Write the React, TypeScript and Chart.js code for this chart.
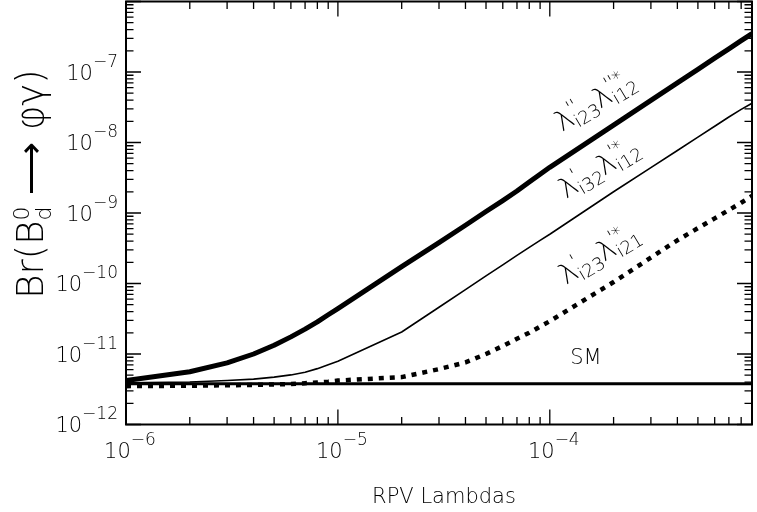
import React, { useEffect, useRef } from 'react';
import { Chart, registerables } from 'chart.js';

Chart.register(...registerables);

// ---------- data ----------
const X_VALUES = [
  1e-6, 2e-6, 3e-6, 4e-6, 5e-6, 6e-6, 7e-6, 8e-6, 9e-6,
  1e-5, 2e-5, 3e-5, 4e-5, 5e-5, 6e-5, 7e-5, 8e-5, 9e-5,
  1e-4, 2e-4, 3e-4, 4e-4, 5e-4, 6e-4, 7e-4, 8e-4, 9e-4,
];
// λ''_{i23} λ''*_{i12}  (thick solid)
const THICK = [
  4.2e-12, 5.6e-12, 7.5e-12, 1.0e-11, 1.33e-11, 1.75e-11, 2.25e-11, 2.85e-11, 3.6e-11,
  4.4e-11, 1.74e-10, 3.8e-10, 6.7e-10, 1.05e-9, 1.5e-9, 2.05e-9, 2.75e-9, 3.55e-9,
  4.45e-9, 1.76e-8, 3.95e-8, 7.0e-8, 1.09e-7, 1.57e-7, 2.13e-7, 2.78e-7, 3.5e-7,
];
// λ'_{i32} λ'*_{i12}  (thin solid)
const THIN = [
  3.9e-12, 4.0e-12, 4.2e-12, 4.4e-12, 4.7e-12, 5.05e-12, 5.5e-12, 6.2e-12, 7.05e-12,
  7.9e-12, 2.05e-11, 4.6e-11, 8.2e-11, 1.28e-10, 1.84e-10, 2.5e-10, 3.25e-10, 4.1e-10,
  5.0e-10, 2.0e-9, 4.4e-9, 7.7e-9, 1.19e-8, 1.7e-8, 2.3e-8, 2.95e-8, 3.6e-8,
];
// λ'_{i23} λ'*_{i21}  (thick dotted)
const DOTTED = [
  3.5e-12, 3.55e-12, 3.6e-12, 3.65e-12, 3.7e-12, 3.75e-12, 3.85e-12, 3.95e-12, 4.05e-12,
  4.2e-12, 4.7e-12, 6.1e-12, 7.6e-12, 1.0e-11, 1.3e-11, 1.65e-11, 2.0e-11, 2.45e-11,
  2.92e-11, 1.05e-10, 2.33e-10, 4.1e-10, 6.1e-10, 8.4e-10, 1.1e-9, 1.4e-9, 1.75e-9,
];
// Standard Model
const SM_X = [1e-6, 9e-4];
const SM_Y = [3.8e-12, 3.8e-12];

const X_MIN = 1e-6;
const X_MAX = 9e-4;
const Y_MIN = 1e-12;
const Y_MAX = 1e-6;
const X_TICK_EXP = [-6, -5, -4];
const Y_TICK_EXP = [-12, -11, -10, -9, -8, -7];
const X_TITLE = 'RPV Lambdas';
const SM_LABEL = 'SM';

// ---------- styling ----------
const FAM = '"DejaVu Sans", "Liberation Sans", sans-serif';
const WEIGHT = '200';

type Part = { t: string; size: number; dy: number; stack?: boolean };

function layoutParts(ctx: CanvasRenderingContext2D, parts: Part[]) {
  let x = 0;
  let prevStart = 0;
  let prevEnd = 0;
  const items: (Part & { x: number })[] = [];
  for (const p of parts) {
    ctx.font = `${WEIGHT} ${p.size}px ${FAM}`;
    const w = ctx.measureText(p.t).width;
    const start = p.stack ? prevStart : x;
    items.push({ ...p, x: start });
    const end = start + w;
    x = p.stack ? Math.max(prevEnd, end) : end;
    prevStart = start;
    prevEnd = end;
  }
  return { items, width: x };
}

function drawParts(
  ctx: CanvasRenderingContext2D,
  parts: Part[],
  x: number,
  y: number,
  angle: number,
  align: 'left' | 'center' | 'right' = 'left'
) {
  const { items, width } = layoutParts(ctx, parts);
  ctx.save();
  ctx.translate(x, y);
  ctx.rotate(angle);
  const off = align === 'left' ? 0 : align === 'center' ? -width / 2 : -width;
  ctx.textBaseline = 'alphabetic';
  ctx.textAlign = 'left';
  ctx.fillStyle = '#000';
  for (const it of items) {
    ctx.font = `${WEIGHT} ${it.size}px ${FAM}`;
    ctx.fillText(it.t, off + it.x, it.dy);
  }
  ctx.restore();
}

function expParts(e: number): Part[] {
  return [
    { t: '10', size: 21, dy: 0 },
    { t: '\u2212' + String(Math.abs(e)), size: 17, dy: -13 },
  ];
}

function lambdaLabel(p1: string, s1: string, p2: string, s2: string): Part[] {
  return [
    { t: '\u03BB', size: 28, dy: 0 },
    { t: p1, size: 18, dy: -11 },
    { t: s1, size: 18, dy: 5, stack: true },
    { t: '\u03BB', size: 28, dy: 0 },
    { t: p2, size: 18, dy: -12 },
    { t: s2, size: 18, dy: 5, stack: true },
  ];
}

const framePlugin = {
  id: 'frame',
  afterDraw(chart: any) {
    const { ctx, chartArea: ca, scales } = chart;
    const xs = scales.x;
    const ys = scales.y;
    ctx.save();
    ctx.strokeStyle = '#000';
    ctx.lineWidth = 1.3;
    ctx.beginPath();
    for (let e = -6; e <= -4; e++) {
      for (let m = 1; m <= 9; m++) {
        const v = m * Math.pow(10, e);
        if (v < X_MIN * 0.999 || v > X_MAX * 1.001) continue;
        const px = xs.getPixelForValue(v);
        const len = m === 1 ? 15 : 7.5;
        ctx.moveTo(px, ca.bottom);
        ctx.lineTo(px, ca.bottom - len);
        ctx.moveTo(px, ca.top);
        ctx.lineTo(px, ca.top + len);
      }
    }
    for (let e = -12; e <= -6; e++) {
      for (let m = 1; m <= 9; m++) {
        const v = m * Math.pow(10, e);
        if (v < Y_MIN * 0.999 || v > Y_MAX * 1.001) continue;
        const py = ys.getPixelForValue(v);
        const len = m === 1 ? 15 : 7.5;
        ctx.moveTo(ca.left, py);
        ctx.lineTo(ca.left + len, py);
        ctx.moveTo(ca.right, py);
        ctx.lineTo(ca.right - len, py);
      }
    }
    ctx.stroke();
    ctx.lineWidth = 2;
    ctx.strokeRect(ca.left, ca.top, ca.right - ca.left, ca.bottom - ca.top);
    ctx.restore();

    for (const e of X_TICK_EXP) {
      const px = xs.getPixelForValue(Math.pow(10, e));
      drawParts(ctx, expParts(e), px + 4, 458, 0, 'center');
    }
    for (const e of Y_TICK_EXP) {
      const py = ys.getPixelForValue(Math.pow(10, e));
      drawParts(ctx, expParts(e), 118, py + 7.5, 0, 'right');
    }

    drawParts(ctx, [{ t: X_TITLE, size: 21, dy: 0 }], 444, 503, 0, 'center');

    drawParts(
      ctx,
      [
        { t: 'Br(B', size: 37, dy: 0 },
        { t: '0', size: 22, dy: -14 },
        { t: 'd', size: 22, dy: 8, stack: true },
        { t: ' \u27F6 ', size: 37, dy: 0 },
        { t: '\u03C6\u03B3)', size: 37, dy: 0 },
      ],
      43,
      184,
      -Math.PI / 2,
      'center'
    );

    const ang = (-31 * Math.PI) / 180;
    drawParts(ctx, lambdaLabel("''", 'i23', "''*", 'i12'), 562, 132, ang);
    drawParts(ctx, lambdaLabel("'", 'i32', "'*", 'i12'), 566, 199, ang);
    drawParts(ctx, lambdaLabel("'", 'i23', "'*", 'i21'), 566, 285, ang);
    drawParts(ctx, [{ t: SM_LABEL, size: 21, dy: 0 }], 586, 364, 0, 'center');
  },
};

function pts(xv: number[], yv: number[]) {
  return xv.map((x, i) => ({ x, y: yv[i] }));
}

export default function App() {
  const ref = useRef<HTMLCanvasElement | null>(null);
  useEffect(() => {
    if (!ref.current) return;
    const chart = new Chart(ref.current, {
      type: 'line',
      data: {
        datasets: [
          {
            label: 'SM',
            data: pts(SM_X, SM_Y),
            borderColor: '#000',
            borderWidth: 3,
            pointRadius: 0,
          },
          {
            label: "λ''i23 λ''*i12",
            data: pts(X_VALUES, THICK),
            borderColor: '#000',
            borderWidth: 5,
            pointRadius: 0,
          },
          {
            label: "λ'i32 λ'*i12",
            data: pts(X_VALUES, THIN),
            borderColor: '#000',
            borderWidth: 1.6,
            pointRadius: 0,
          },
          {
            label: "λ'i23 λ'*i21",
            data: pts(X_VALUES, DOTTED),
            borderColor: '#000',
            borderWidth: 4.5,
            borderDash: [5, 6],
            pointRadius: 0,
          },
        ],
      },
      options: {
        animation: false,
        responsive: false,
        maintainAspectRatio: false,
        parsing: false as any,
        layout: { padding: { left: 126, right: 5, top: 1.5, bottom: 87.5 } },
        elements: {
          line: { tension: 0, borderCapStyle: 'butt', borderJoinStyle: 'round' },
        },
        scales: {
          x: { type: 'logarithmic', min: X_MIN, max: X_MAX, display: false },
          y: { type: 'logarithmic', min: Y_MIN, max: Y_MAX, display: false },
        },
        plugins: {
          legend: { display: false },
          tooltip: { enabled: false },
        },
      },
      plugins: [framePlugin],
    });
    return () => chart.destroy();
  }, []);

  return (
    <div style={{ position: 'fixed', left: 0, top: 0, width: 757, height: 512, background: '#fff' }}>
      <canvas ref={ref} width={757} height={512} style={{ width: 757, height: 512, display: 'block' }} />
    </div>
  );
}
